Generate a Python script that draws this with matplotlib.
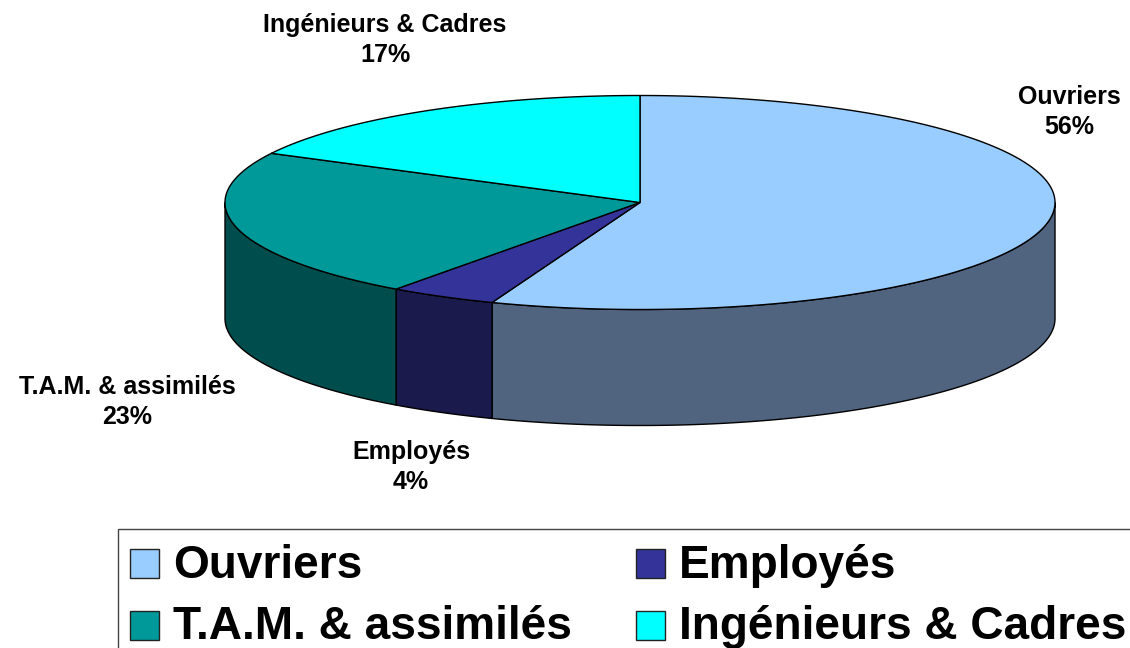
import matplotlib.pyplot as plt
from matplotlib.patches import Polygon, Rectangle
import numpy as np

plt.rcParams["font.family"] = ["Liberation Sans", "DejaVu Sans"]

categories = ["Ouvriers", "Employés", "T.A.M. & assimilés", "Ingénieurs & Cadres"]
shares = [55.8, 4.2, 22.6, 17.4]
top_colors = ["#99CCFF", "#333399", "#009999", "#00FFFF"]
side_colors = ["#506480", "#1A1A4D", "#004D4D", "#008080"]

# pie geometry in pixels of the 1130x648 picture
cx, cy = 640, 202.5
rx, ry = 415, 107
depth = 116


def rim(start, end):
    # angles are clockwise from the top, in degrees
    a = np.radians(np.linspace(start, end, 200))
    return cx + rx * np.sin(a), cy - ry * np.cos(a)


fig = plt.figure(figsize=(11.3, 6.48), dpi=100)
ax = fig.add_axes([0, 0, 1, 1])
ax.set_xlim(0, 1130)
ax.set_ylim(648, 0)
ax.axis("off")

edges = np.cumsum([0] + shares) * 360 / sum(shares)

# side walls, only the front half of the rim shows
for i in range(len(shares)):
    start, end = max(edges[i], 90), min(edges[i + 1], 270)
    if start >= end:
        continue
    x, y = rim(start, end)
    pts = np.r_[np.c_[x, y], np.c_[x[::-1], y[::-1] + depth]]
    ax.add_patch(Polygon(pts, closed=True, fc=side_colors[i], ec="black", lw=1.0))

# top face
for i in range(len(shares)):
    x, y = rim(edges[i], edges[i + 1])
    pts = np.r_[[[cx, cy]], np.c_[x, y]]
    ax.add_patch(Polygon(pts, closed=True, fc=top_colors[i], ec="black", lw=1.0))

label_pos = [(1069, 112), (411, 467), (127, 402), (385, 40)]
for name, share, (lx, ly) in zip(categories, shares, label_pos):
    ax.text(lx, ly, f"{name}\n{round(share)}%", ha="center", va="center", fontsize=18,
            fontweight="bold", linespacing=1.3, color="black")

# legend box runs off the picture on the right and bottom
ax.add_patch(Rectangle((118, 529), 1100, 200, fc="white", ec="#444444", lw=1.0))
swatch_pos = [(130, 563), (636, 563), (130, 625), (636, 625)]
text_base = [578, 578, 639, 639]
for name, color, (lx, ly), base in zip(categories, top_colors, swatch_pos, text_base):
    ax.add_patch(Rectangle((lx, ly - 14.5), 29, 29, fc=color, ec="#222222", lw=1.0))
    ax.text(lx + 43, base, name, ha="left", va="baseline", fontsize=33.1,
            fontweight="bold", color="black")

fig.savefig("out.png", dpi=100)
